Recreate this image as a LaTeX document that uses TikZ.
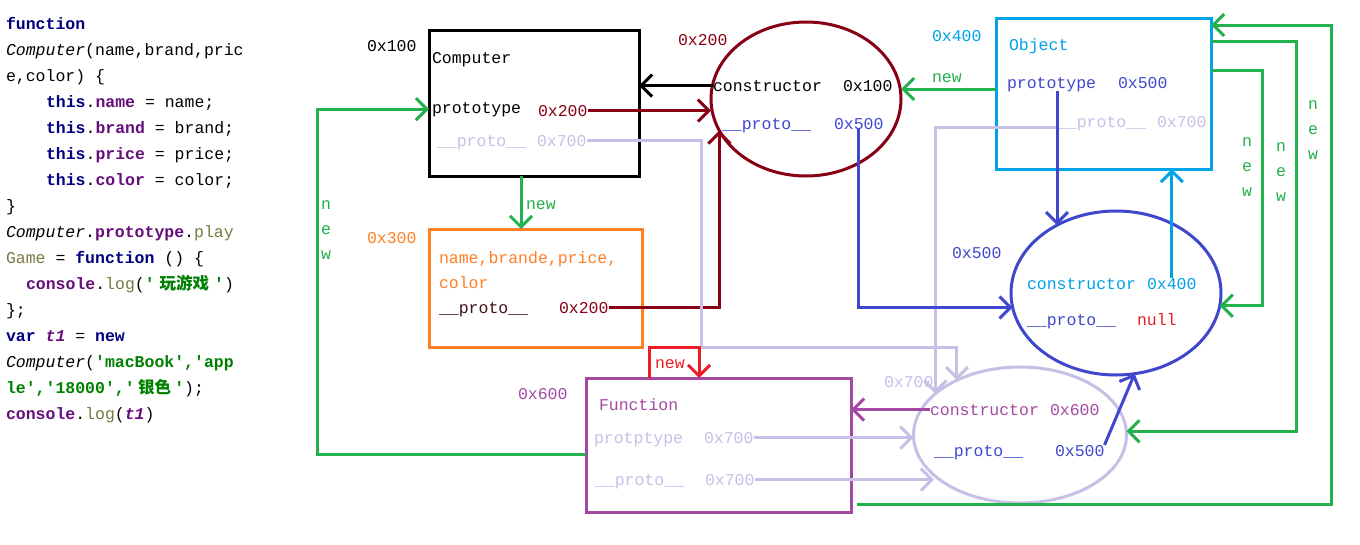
\documentclass[tikz,border=0pt]{standalone}
\usepackage{fontspec}
\newfontfamily\mono{Liberation Mono}
\newfontfamily\cjk{Noto Sans CJK SC}
\usetikzlibrary{arrows.meta,shapes.geometric}
\definecolor{dred}{HTML}{880015}
\definecolor{gr}{HTML}{22B14C}
\definecolor{org}{HTML}{FF7F27}
\definecolor{cy}{HTML}{00A2E8}
\definecolor{bl}{HTML}{3F48CC}
\definecolor{pu}{HTML}{A349A4}
\definecolor{lav}{HTML}{C8BFE7}
\definecolor{rd}{HTML}{ED1C24}
\definecolor{kwc}{HTML}{000080}
\definecolor{fldc}{HTML}{660E7A}
\definecolor{strc}{HTML}{008000}
\definecolor{fnc}{HTML}{7A7A43}
\definecolor{dk}{HTML}{44101A}
\newcommand\Ckw[1]{{\bfseries\color{kwc}#1}}
\newcommand\Cfld[1]{{\bfseries\color{fldc}#1}}
\newcommand\Cstr[1]{{\bfseries\color{strc}#1}}
\newcommand\Cfn[1]{{\color{fnc}#1}}
\newcommand\Cvar[1]{{\bfseries\itshape\color{fldc}#1}}
\newcommand\vword[1]{\vtop{\baselineskip=25pt\hbox{n}\hbox{e}\hbox{w}}}
\tikzset{
  t/.style={font=\mono\fontsize{16.5}{20}\selectfont, inner sep=0pt, outer sep=0pt, anchor=base west},
  vlab/.style={font=\mono\fontsize{16.5}{20}\selectfont, inner sep=0pt, outer sep=0pt, anchor=base, text=gr},
  box/.style={draw, line width=3pt, rectangle, inner sep=0pt, outer sep=0pt},
  ell/.style={draw, line width=3pt, ellipse, inner sep=0pt, outer sep=0pt},
  con/.style={line width=3pt, -{Straight Barb[length=11pt,width=22pt]}},
}
\begin{document}
\begin{tikzpicture}[x=1pt,y=-1pt]
\fill[white] (0,0) rectangle (1360,544);
\useasboundingbox (0,0) rectangle (1360,544);

% ---------- code ----------
\node[t] (c1) at (6,29) {\Ckw{function}};
\node[t] (c2) at (6,55) {\textit{Computer}(name,brand,pric};
\node[t] (c3) at (6,81) {e,color) \{};
\node[t] (c4) at (46,107) {\Ckw{this}.\Cfld{name} = name;};
\node[t] (c5) at (46,133) {\Ckw{this}.\Cfld{brand} = brand;};
\node[t] (c6) at (46,159) {\Ckw{this}.\Cfld{price} = price;};
\node[t] (c7) at (46,185) {\Ckw{this}.\Cfld{color} = color;};
\node[t] (c8) at (6,211) {\}};
\node[t] (c9) at (6,237) {\textit{Computer}.\Cfld{prototype}.\Cfn{play}};
\node[t] (c10) at (6,263) {\Cfn{Game} = \Ckw{function} () \{};
\node[t] (c11) at (26,289) {\Cfld{console}.\Cfn{log}(\Cstr{'\makebox[59.4pt]{\cjk 玩游戏}'})};
\node[t] (c12) at (6,315) {\};};
\node[t] (c13) at (6,341) {\Ckw{var} \Cvar{t1} = \Ckw{new}};
\node[t] (c14) at (6,367) {\textit{Computer}(\Cstr{'macBook','app}};
\node[t] (c15) at (6,393) {\Cstr{le','18000','\makebox[39.6pt]{\cjk 银色}'});};
\node[t] (c16) at (6,419) {\Cfld{console}.\Cfn{log}(\Cvar{t1})};

% ---------- shapes ----------
\node[box, draw=black, minimum width=210pt, minimum height=146pt] (comp) at (534,103) {};
\node[box, draw=org, minimum width=213pt, minimum height=118pt] (inst) at (535.5,288) {};
\node[box, draw=pu, minimum width=265pt, minimum height=134pt] (func) at (718.5,445) {};
\node[box, draw=cy, minimum width=215pt, minimum height=151pt] (obj) at (1103.5,93.5) {};
\node[ell, draw=dred, minimum width=190pt, minimum height=154pt] (ctor) at (806,99) {};
\node[ell, draw=bl, minimum width=210pt, minimum height=164pt] (opE) at (1116,293) {};
\node[ell, draw=lav, minimum width=213pt, minimum height=136pt] (fpE) at (1020,435) {};

% ---------- texts ----------
\node[t] (n100) at (367,51) {0x100};
\node[t] (compT) at (432,63) {Computer};
\node[t] (cproto) at (432,113) {prototype};
\node[t, text=dred] (c200) at (538,116) {0x200};
\node[t, text=lav] (cpp) at (437,146) {\_\_proto\_\_};
\node[t, text=lav] (c700) at (537,146) {0x700};
\node[t, text=dred] (l200) at (678,45) {0x200};
\node[t] (kctor) at (713,91) {constructor};
\node[t] (k100) at (843,91) {0x100};
\node[t, text=bl] (kpp) at (722,129) {\_\_proto\_\_};
\node[t, text=bl] (k500) at (834,129) {0x500};
\node[t, text=cy] (l400) at (932,41) {0x400};
\node[t, text=gr] (newO) at (932,82) {new};
\node[t, text=cy] (objT) at (1009,50) {Object};
\node[t, text=bl] (oproto) at (1007,88) {prototype};
\node[t, text=bl] (o500) at (1118,88) {0x500};
\node[t, text=lav] (opp) at (1057,127) {\_\_proto\_\_};
\node[t, text=lav] (o700) at (1157,127) {0x700};
\node[t, text=gr] (newC) at (526,209) {new};
\node[t, text=org] (l300) at (367,243) {0x300};
\node[t, text=org] (iA) at (439,263) {name,brande,price,};
\node[t, text=org] (iB) at (439,288) {color};
\node[t, text=dk] (ipp) at (439,313) {\_\_proto\_\_};
\node[t, text=dred] (i200) at (559,313) {0x200};
\node[t, text=bl] (l500) at (952,258) {0x500};
\node[t, text=cy] (pctor) at (1027,289) {constructor};
\node[t, text=cy] (p400) at (1147,289) {0x400};
\node[t, text=bl] (ppp) at (1027,325) {\_\_proto\_\_};
\node[t, text=rd] (pnull) at (1137,325) {null};
\node[t, text=rd] (newF) at (655,368) {new};
\node[t, text=pu] (l600) at (518,399) {0x600};
\node[t, text=pu] (funT) at (599,410) {Function};
\node[t, text=lav] (fproto) at (594,443) {protptype};
\node[t, text=lav] (f700a) at (704,443) {0x700};
\node[t, text=lav] (fpp) at (595,485) {\_\_proto\_\_};
\node[t, text=lav] (f700b) at (705,485) {0x700};
\node[t, text=lav] (l700) at (884,387) {0x700};
\node[t, text=pu] (qctor) at (930,415) {constructor};
\node[t, text=pu] (q600) at (1050,415) {0x600};
\node[t, text=bl] (qpp) at (934,456) {\_\_proto\_\_};
\node[t, text=bl] (q500) at (1055,456) {0x500};

\node[vlab] (v1) at (326,209) {\vword{}};
\node[vlab] (v2) at (1247,146) {\vword{}};
\node[vlab] (v3) at (1281,151) {\vword{}};
\node[vlab] (v4) at (1313,109) {\vword{}};

% ---------- coordinates ----------
\coordinate (k1) at (701,347);
\coordinate (g1) at (1262,70);
\coordinate (g2) at (1296,41);
\coordinate (g3s) at (857,504);
\coordinate (g3) at (1331,504);
\coordinate (g4) at (317,454);
\coordinate (g5) at (521,200);
\coordinate (r1) at (649,347);
\coordinate (r2) at (699,347);

% ---------- connectors ----------
\draw[con, black] (kctor.west) -- (kctor.west -| comp.east);
\draw[con, dred] (c200.east) -- (c200.east -| ctor.west);
\draw[con, dred] (i200.east) -| (ctor.200);
\draw[con, lav] (c700.east) -| (k1) -| (fpE.139);
\draw[con, lav] ([yshift=-4pt]opp.west) -| (fpE.154);
\draw[con, bl] (k500.south) |- (opE.188);
\draw[con, gr] ([yshift=4.5pt]obj.west) -- ([yshift=4.5pt]obj.west -| ctor.east);
\draw[con, bl] (opE.131 |- oproto.south) -- (opE.131);
\draw[con, cy] (p400.north) -- (p400.north |- obj.south);
\draw[con, gr] (obj.east |- g1) -- (g1) |- (opE.353);
\draw[con, gr] (obj.east |- g2) -- (g2) |- (fpE.2);
\draw[con, gr] (g3s) -- (g3) |- ([yshift=-7pt]obj.north east);
\draw[con, gr] (func.west |- g4) -- (g4) |- (comp.west |- cproto.west);
\draw[con, gr] (comp.south -| g5) -- (inst.north -| g5);
\draw[con, rd] (func.north -| r1) -- (r1) -- (r2) -- (func.north -| r2);
\draw[con, lav] (f700a.east) -- (f700a.east -| fpE.west);
\draw[con, lav] (f700b.east) -- (f700b.east -| fpE.205);
\draw[con, pu] (qctor.west) -- (qctor.west -| func.east);
\draw[con, bl] (q500.north east) -- (opE.283);
\end{tikzpicture}
\end{document}
